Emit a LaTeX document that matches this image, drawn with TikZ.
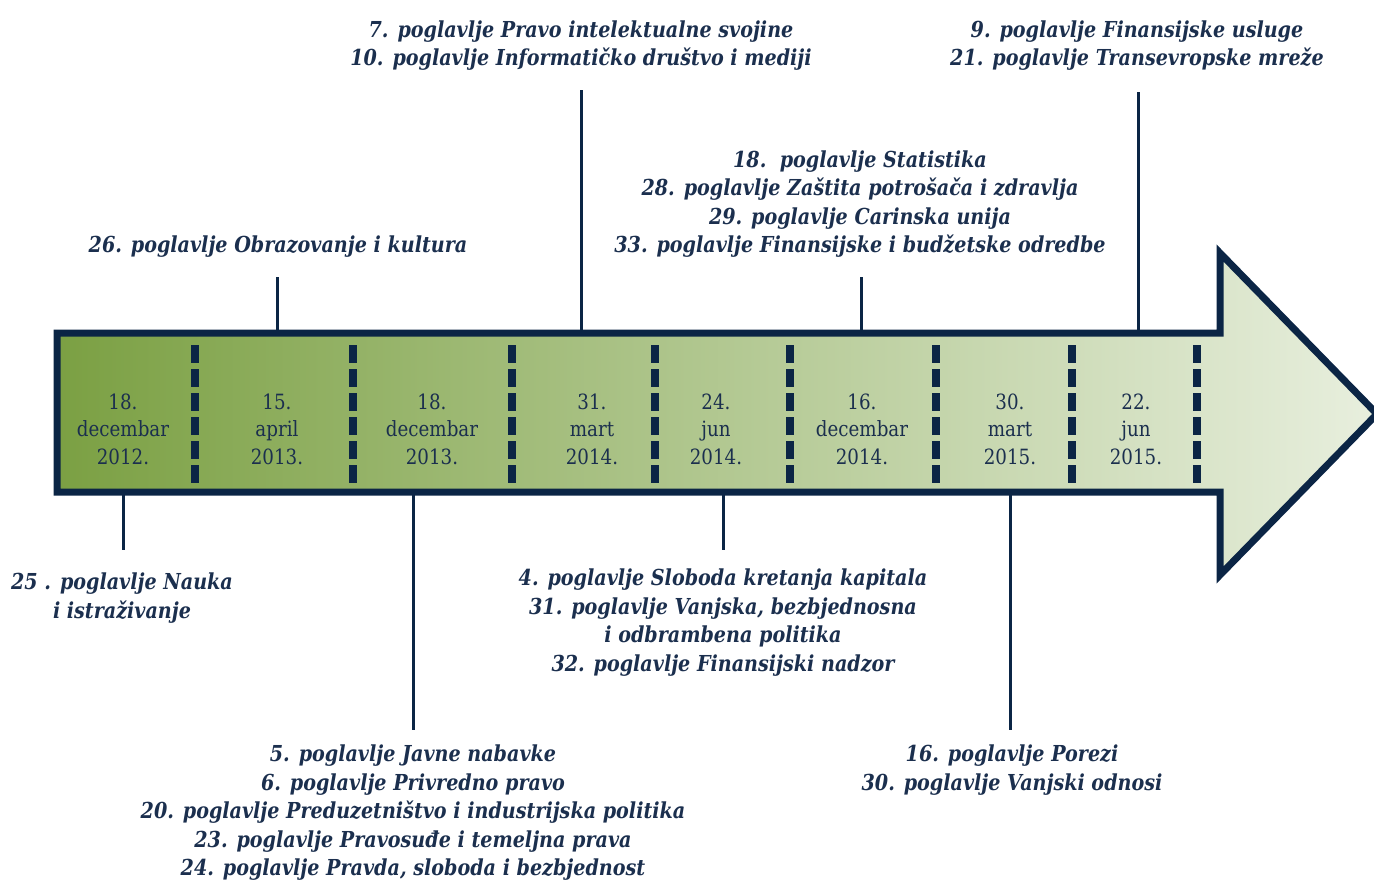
\documentclass[tikz,border=0pt]{standalone}
\usepackage{fontspec}
\setmainfont[FakeStretch=0.87]{DejaVu Serif}
\usetikzlibrary{positioning}
\definecolor{arrow-navy}{HTML}{0B2545}
\definecolor{text-navy}{HTML}{1B2F4E}
\definecolor{green-dark}{HTML}{7BA043}
\definecolor{green-mid}{HTML}{C3D9A8}
\definecolor{green-light}{HTML}{E8EFDE}

\begin{document}
\begin{tikzpicture}[x=1pt, y=-1pt]
	\tikzset{datum/.style={align=center, text=text-navy, font=\fontsize{21}{27.5}\selectfont}}
	\tikzset{chapter/.style={align=center, text=text-navy, inner ysep=19pt, font=\fontsize{22}{28.5}\selectfont\bfseries\itshape}}
	\tikzset{conn/.style={draw=arrow-navy, line width=3pt}}
	\tikzset{divider/.style={draw=arrow-navy, line width=8pt, dash pattern=on 18pt off 6pt}}
	
	\useasboundingbox (0,0) rectangle (1374,881);
	
	% the arrow
	\draw[arrow-navy, line width=7pt, left color=green-dark, middle color=green-mid, right color=green-light]
	(57,333) -- (1220,333) -- (1220,253) -- (1377,414) -- (1220,575) -- (1220,492) -- (57,492) -- cycle;
	\foreach \x in {195, 353, 512, 655, 790, 936, 1072, 1197}
		\draw[divider] (\x,345) -- (\x,487);
	
	% dates
	\node[datum] (dec12) at (123,429) {18.\\decembar\\2012.};
	\node[datum] (apr13) at (277,429) {15.\\april\\2013.};
	\node[datum] (dec13) at (432,429) {18.\\decembar\\2013.};
	\node[datum] (mar14) at (592,429) {31.\\mart\\2014.};
	\node[datum] (jun14) at (716,429) {24.\\jun\\2014.};
	\node[datum] (dec14) at (862,429) {16.\\decembar\\2014.};
	\node[datum] (mar15) at (1010,429) {30.\\mart\\2015.};
	\node[datum] (jun15) at (1136,429) {22.\\jun\\2015.};
	
	% where the lines leave the arrow
	\coordinate (dec12 edge) at (123,492);
	\coordinate (apr13 edge) at (277,333);
	\coordinate (mar14 edge) at (581,333);
	\coordinate (dec13 edge) at (413,492);
	\coordinate (jun14 edge) at (723,492);
	\coordinate (dec14 edge) at (861,333);
	\coordinate (mar15 edge) at (1010,492);
	\coordinate (jun15 edge) at (1138,330);
	
	% chapters
	\node[chapter, anchor=north, inner ysep=23pt] (nauka) at (122,550) {25 . poglavlje Nauka\\i istraživanje};
	\node[chapter, anchor=south] (obrazovanje) at (278,277) {26. poglavlje Obrazovanje i kultura};
	\node[chapter, anchor=south] (pravo) at (581,90) {7. poglavlje Pravo intelektualne svojine\\10. poglavlje Informatičko društvo i mediji};
	\node[chapter, anchor=north, inner ysep=15pt] (nabavke) at (413,730) {5. poglavlje Javne nabavke\\6. poglavlje Privredno pravo\\20. poglavlje Preduzetništvo i industrijska politika\\23. poglavlje Pravosuđe i temeljna prava\\24. poglavlje Pravda, sloboda i bezbjednost};
	\node[chapter, anchor=north] (kapital) at (723,550) {4. poglavlje Sloboda kretanja kapitala\\31. poglavlje Vanjska, bezbjednosna\\i odbrambena politika\\32. poglavlje Finansijski nadzor};
	\node[chapter, anchor=south] (statistika) at (860,277) {18.\ \ poglavlje Statistika\\28. poglavlje Zaštita potrošača i zdravlja\\29. poglavlje Carinska unija\\33. poglavlje Finansijske i budžetske odredbe};
	\node[chapter, anchor=north, inner ysep=15pt] (porezi) at (1012,730) {16. poglavlje Porezi\\30. poglavlje Vanjski odnosi};
	\node[chapter, anchor=south, inner ysep=21pt] (usluge) at (1137,92) {9. poglavlje Finansijske usluge\\21. poglavlje Transevropske mreže};
	
	\draw[conn] (dec12 edge) -- (dec12 edge |- nauka.north);
	\draw[conn] (apr13 edge) -- (apr13 edge |- obrazovanje.south);
	\draw[conn] (mar14 edge) -- (mar14 edge |- pravo.south);
	\draw[conn] (dec13 edge) -- (dec13 edge |- nabavke.north);
	\draw[conn] (jun14 edge) -- (jun14 edge |- kapital.north);
	\draw[conn] (dec14 edge) -- (dec14 edge |- statistika.south);
	\draw[conn] (mar15 edge) -- (mar15 edge |- porezi.north);
	\draw[conn] (jun15 edge) -- (jun15 edge |- usluge.south);
\end{tikzpicture}
\end{document}
